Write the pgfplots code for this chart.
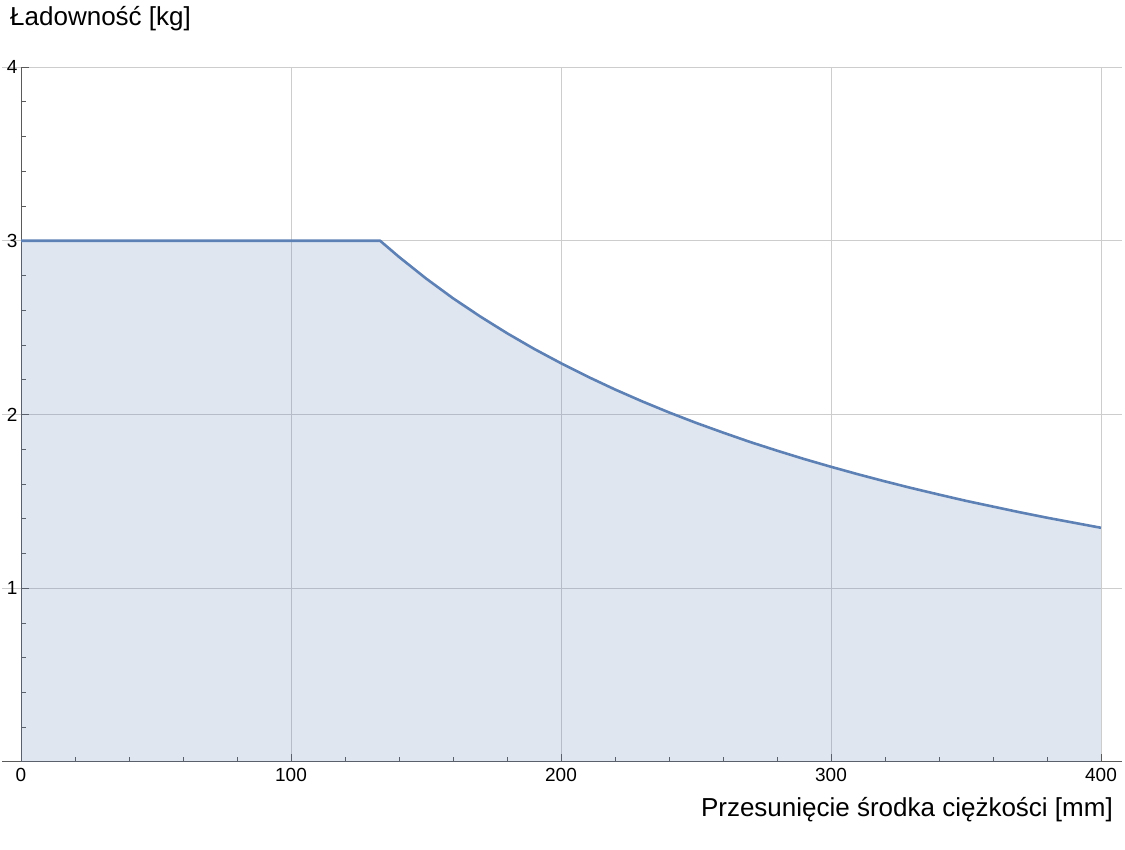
\documentclass[border=0pt]{standalone}
\usepackage{fontspec}
\setmainfont{Liberation Sans}
\usepackage{pgfplots}
\pgfplotsset{compat=1.18}
\definecolor{mblue}{RGB}{94,129,181}
\definecolor{axgray}{RGB}{90,90,90}
\definecolor{gridgray}{RGB}{205,205,205}
\begin{document}
\begin{tikzpicture}
\begin{axis}[
  scale only axis,
  width=1120pt, height=695pt,
  xmin=-7.04, xmax=407.8,
  ymin=0, ymax=4,
  axis lines=middle,
  axis line style={axgray, line width=1pt, -},
  xtick={100,200,300,400},
  ytick={1,2,3,4},
  extra x ticks={0},
  extra x tick style={grid=none},
  minor xtick={20,40,60,80,120,140,160,180,220,240,260,280,320,340,360,380},
  minor ytick={0.2,0.4,0.6,0.8,1.2,1.4,1.6,1.8,2.2,2.4,2.6,2.8,3.2,3.4,3.6,3.8},
  tick align=inside,
  major tick length=8pt,
  minor tick length=5pt,
  tick style={axgray, line width=0.9pt},
  grid=major,
  major grid style={gridgray, line width=0.8pt},
  ticklabel style={font=\fontsize{19}{21}\selectfont, text=black},
  /pgf/number format/assume math mode=true,
  xticklabel style={yshift=-3pt},
  yticklabel style={xshift=0pt},
  clip=false,
]
\addplot[draw=none, fill=mblue, fill opacity=0.2] coordinates {
(0,3.000) (133,3.000) (140,2.907) (150,2.783) (160,2.669) (170,2.565) (180,2.468)
(190,2.378) (200,2.295) (210,2.217) (220,2.144) (230,2.076) (240,2.012) (250,1.952)
(260,1.896) (270,1.842) (280,1.792) (290,1.744) (300,1.699) (310,1.656) (320,1.615)
(330,1.576) (340,1.539) (350,1.503) (360,1.470) (370,1.437) (380,1.406) (390,1.377)
(400,1.348)} \closedcycle;
\addplot[mblue, line width=2.6pt, line join=round] coordinates {
(0,3.000) (133,3.000) (140,2.907) (150,2.783) (160,2.669) (170,2.565) (180,2.468)
(190,2.378) (200,2.295) (210,2.217) (220,2.144) (230,2.076) (240,2.012) (250,1.952)
(260,1.896) (270,1.842) (280,1.792) (290,1.744) (300,1.699) (310,1.656) (320,1.615)
(330,1.576) (340,1.539) (350,1.503) (360,1.470) (370,1.437) (380,1.406) (390,1.377)
(400,1.348)};
\end{axis}
\node[anchor=base west, inner sep=0pt, font=\fontsize{26}{28}\selectfont] at (8pt,736pt) {Ładowność [kg]};
\node[anchor=base east, inner sep=0pt, font=\fontsize{26}{28}\selectfont] at (1111pt,-55pt) {Przesunięcie środka ciężkości [mm]};
\pgfresetboundingbox
\useasboundingbox (-2pt,-88pt) rectangle (1123pt,762pt);
\end{tikzpicture}
\end{document}
